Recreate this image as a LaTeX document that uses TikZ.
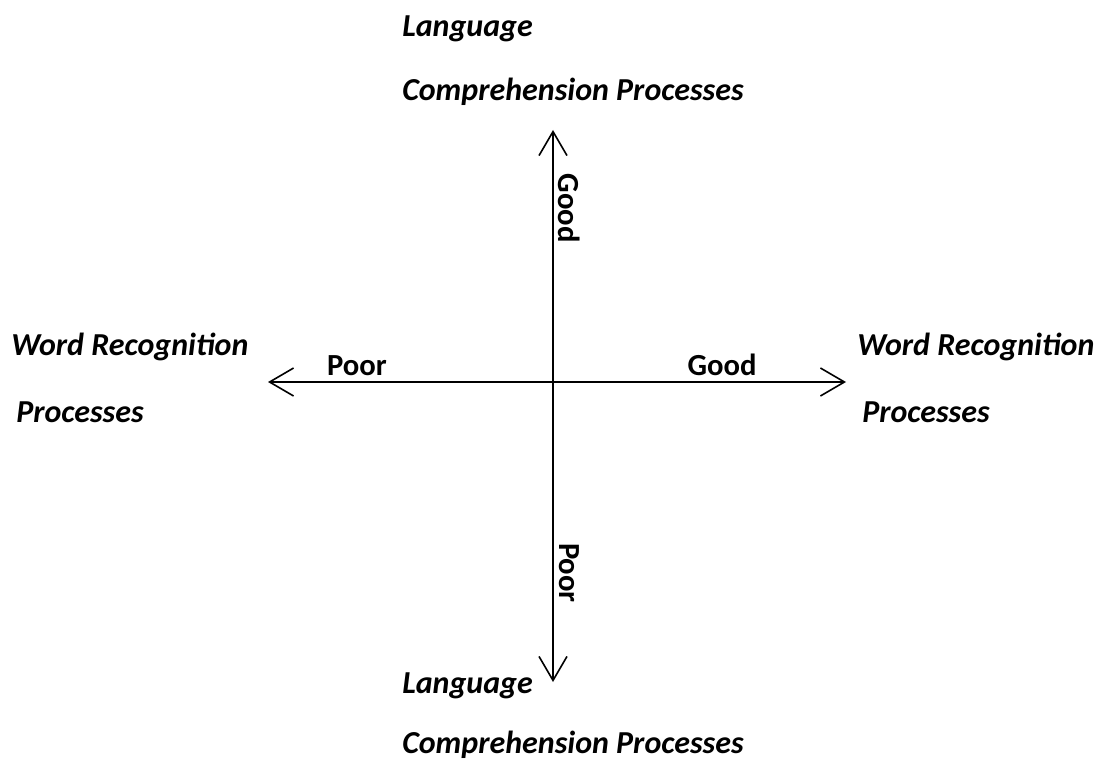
\documentclass[tikz,border=0pt]{standalone}
\usepackage{fontspec}
\setmainfont{Carlito}
\usetikzlibrary{arrows.meta}
\begin{document}
\begin{tikzpicture}[x=0.75pt,y=-0.75pt,
  lab/.style={font=\fontsize{24}{28}\selectfont\bfseries\itshape, inner sep=0pt, anchor=base west},
  tick/.style={font=\fontsize{23}{27}\selectfont\bfseries, inner sep=0pt},
  axis/.style={line width=1.5pt, -{Straight Barb[length=18pt,width=21pt,line width=1.2pt]}}]
\useasboundingbox (0,0) rectangle (1099,763);
\coordinate (O) at (553,382);
\coordinate (L) at (268,382);
\coordinate (R) at (846,382);
\coordinate (T) at (553,130);
\coordinate (B) at (553,682);
\draw[axis] (O) -- (L);
\draw[axis] (O) -- (R);
\draw[axis] (O) -- (T);
\draw[axis] (O) -- (B);
\node[lab] (lt1) at (402,37) {Language};
\node[lab] (lt2) at (402,101) {Comprehension Processes};
\node[lab] (lb1) at (402,693) {Language};
\node[lab] (lb2) at (402,753) {Comprehension Processes};
\node[lab] (wl1) at (11,355) {Word Recognition};
\node[lab] (wl2) at (16,422) {Processes};
\node[lab] (wr1) at (857,355) {Word Recognition};
\node[lab] (wr2) at (862,422) {Processes};
\node[tick, anchor=base] (pl) at (357,375) {Poor};
\node[tick, anchor=base] (gr) at (722,375) {Good};
\node[tick, rotate=-90] (gt) at (569,208) {Good};
\node[tick, rotate=-90] (pb) at (569,573) {Poor};
\end{tikzpicture}
\end{document}
